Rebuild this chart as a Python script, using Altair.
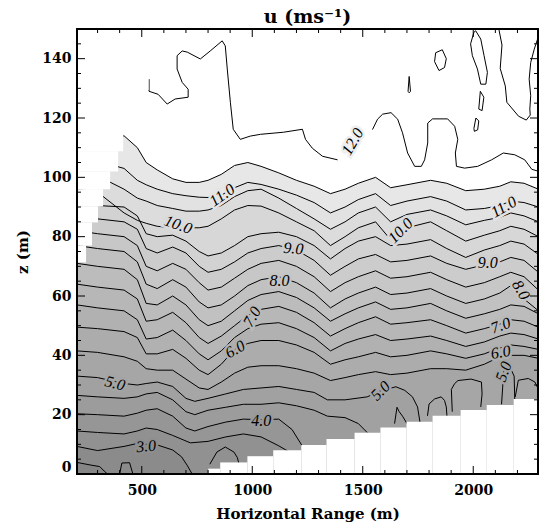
import altair as alt
import pandas as pd

# ---------------- axes / frame ----------------
X_DOMAIN = [207, 2293]
Z_DOMAIN = [0, 150]
X_MAJOR = [500, 1000, 1500, 2000]
X_MINOR = [300, 400, 600, 700, 800, 900, 1100, 1200, 1300, 1400, 1600, 1700,
           1800, 1900, 2100, 2200]
Z_MAJOR = [0, 20, 40, 60, 80, 100, 120, 140]
Z_MINOR = [5, 10, 15, 25, 30, 35, 45, 50, 55, 65, 70, 75, 85, 90, 95, 105, 110,
           115, 125, 130, 135, 145]

# ---------------- contour lines (x: m, z: m) ----------------
X_GRID = [207, 300, 420, 480, 520, 570, 640, 700, 760, 800, 860, 920, 980,
          1040, 1120, 1200, 1280, 1354, 1420, 1480, 1558, 1626, 1700, 1807,
          1880, 1966, 2050, 2120, 2170, 2230, 2295]

X_25 = [207, 270, 310, 330, 345]
Z_25 = [3.9, 3.0, 2.5, 1.0, 0.0]
X_25B = [400, 410, 445, 460]
Z_25B = [0.0, 3.7, 3.8, 0.0]

X_30 = [207, 300, 420, 480, 520, 570, 640, 680, 705, 728]
Z_30 = [9.3, 7.9, 9.3, 10.3, 10.0, 9.8, 8.1, 5.8, 3.0, 0.0]
X_35B = [808, 840, 878, 917, 932, 940]
Z_35B = [3.3, 7.4, 9.1, 7.4, 5.6, 3.5]

X_35 = [207, 300, 420, 480, 520, 570, 640, 720, 800, 880, 960, 1040, 1120, 1200]
Z_35 = [14.5, 14.0, 13.5, 14.5, 15.5, 15.0, 13.0, 10.5, 11.0, 12.5, 13.5, 12.5,
        9.5, 6.0]

X_40 = [207, 300, 420, 480, 520, 570, 640, 700, 740, 800, 880, 960, 1040, 1120,
        1180, 1230]
Z_40 = [20.3, 20.0, 19.5, 20.5, 21.5, 22.0, 19.5, 15.5, 14.5, 16.0, 17.5, 18.5,
        18.3, 18.5, 15.0, 9.0]

X_45 = [207, 300, 420, 480, 520, 570, 640, 700, 740, 800, 880, 960, 1040, 1120,
        1200, 1280, 1340, 1420, 1480, 1520]
Z_45 = [26.5, 26.0, 25.5, 26.0, 27.0, 27.5, 25.0, 21.0, 20.0, 21.5, 22.5, 23.5,
        23.5, 24.0, 23.0, 21.5, 19.5, 19.0, 17.0, 14.0]
X_45B = [1644, 1655, 1665, 1680, 1700]
Z_45B = [17.0, 22.5, 21.0, 19.5, 17.0]

X_50 = [207, 300, 420, 480, 520, 570, 640, 700, 740, 800, 880, 960, 1040, 1120,
        1200, 1280, 1340, 1420, 1520, 1580, 1650, 1690, 1725, 1748, 1760]
Z_50 = [33.0, 32.5, 30.5, 30.0, 30.5, 31.0, 29.5, 25.5, 24.5, 25.5, 27.0, 28.5,
        29.0, 29.5, 28.5, 27.5, 25.0, 25.0, 26.0, 28.0, 29.4, 28.2, 26.0, 22.6,
        17.0]
X_50B = [1793, 1800, 1825, 1855, 1870, 1878, 1881]
Z_50B = [19.6, 23.6, 25.3, 26.0, 24.8, 22.6, 19.6]
X_50C = [1905, 1901, 1916, 1931, 1990, 2037, 2040, 2034]
Z_50C = [21.0, 28.5, 30.5, 31.5, 32.0, 31.0, 27.0, 22.6]
X_50D = [2128, 2133, 2138, 2143, 2160, 2185, 2188]
Z_50D = [23.5, 29.0, 34.5, 37.5, 37.0, 33.0, 25.0]
X_50E = [2190, 2204, 2249, 2279, 2297]
Z_50E = [26.0, 31.6, 32.2, 31.0, 28.2]

Z_55 = [41.5, 41.0, 39.5, 38.0, 35.5, 35.0, 35.0, 32.0, 29.0, 28.5, 31.0, 34.0,
        36.0, 36.5, 36.5, 35.5, 34.0, 31.5, 32.5, 33.5, 34.5, 33.5, 34.0, 35.5,
        35.5, 35.0, 37.0, 39.5, 40.0, 40.0, 39.0]
Z_60 = [49.5, 49.0, 48.0, 46.0, 40.5, 40.5, 42.0, 39.0, 35.0, 33.5, 37.0, 42.0,
        44.0, 45.0, 45.0, 43.5, 41.0, 37.0, 38.5, 39.5, 41.0, 39.5, 40.0, 41.5,
        40.5, 39.0, 40.5, 42.5, 43.5, 43.0, 42.0]
Z_65 = [57.0, 56.0, 55.0, 52.0, 45.5, 46.0, 48.5, 45.0, 40.5, 38.5, 41.5, 46.0,
        49.0, 50.5, 51.0, 49.0, 46.0, 41.5, 44.0, 45.5, 47.0, 45.0, 45.5, 46.5,
        45.0, 43.0, 44.5, 46.5, 47.5, 47.0, 45.5]
Z_70 = [64.0, 63.0, 62.0, 59.0, 51.5, 52.0, 54.5, 51.0, 46.0, 44.0, 46.5, 50.0,
        53.5, 55.5, 56.5, 54.5, 51.0, 46.5, 49.0, 51.0, 53.0, 50.5, 51.0, 52.0,
        50.0, 47.5, 49.0, 50.5, 52.0, 51.5, 49.5]
Z_75 = [71.0, 70.0, 69.0, 65.5, 57.5, 57.0, 60.0, 57.0, 52.0, 50.0, 51.5, 55.0,
        58.5, 60.5, 61.5, 59.5, 56.0, 51.5, 54.0, 56.0, 58.0, 55.5, 56.0, 57.5,
        55.0, 52.5, 54.0, 55.5, 57.0, 56.5, 54.0]
Z_80 = [77.0, 76.0, 75.0, 71.5, 64.0, 62.5, 65.5, 63.0, 58.0, 56.0, 57.0, 60.0,
        63.5, 65.5, 66.5, 64.5, 61.0, 56.0, 59.0, 61.0, 63.0, 60.5, 61.0, 62.5,
        60.0, 57.5, 59.0, 61.0, 63.5, 59.0, 55.0]
Z_85 = [82.0, 81.0, 80.0, 77.0, 70.0, 68.5, 71.0, 69.0, 64.5, 62.0, 63.0, 66.0,
        69.0, 71.0, 72.0, 70.0, 66.5, 61.5, 64.5, 66.5, 68.5, 66.0, 66.5, 68.0,
        65.5, 63.0, 64.5, 66.5, 68.0, 66.5, 62.0]
Z_90 = [87.0, 86.0, 85.0, 82.5, 76.0, 74.5, 76.5, 74.5, 70.0, 68.0, 69.0, 71.5,
        74.5, 76.0, 77.0, 75.5, 72.0, 67.0, 70.0, 72.5, 74.0, 71.5, 72.0, 73.5,
        71.0, 69.0, 70.5, 71.5, 73.0, 72.0, 68.0]
Z_95 = [91.0, 90.5, 90.0, 87.0, 81.0, 80.0, 80.5, 78.5, 75.0, 73.5, 74.5, 77.0,
        80.0, 81.0, 81.5, 80.0, 77.0, 72.5, 76.0, 78.5, 80.0, 77.0, 77.5, 79.0,
        76.0, 73.0, 75.5, 77.0, 78.5, 77.5, 74.0]
Z_100 = [96.0, 95.0, 88.0, 85.5, 84.5, 83.5, 83.0, 83.0, 83.0, 83.5, 86.0, 89.0,
         90.5, 90.3, 88.0, 85.0, 82.0, 77.0, 80.0, 83.0, 85.0, 79.0, 83.0, 85.0,
         82.0, 78.5, 80.5, 82.0, 83.5, 82.5, 80.0]
Z_105 = [101.0, 100.5, 96.0, 93.0, 92.0, 90.5, 89.5, 88.6, 88.6, 89.0, 90.5,
         93.5, 95.5, 96.0, 93.0, 89.5, 86.0, 82.5, 85.0, 88.0, 90.0, 85.0, 87.5,
         89.0, 87.0, 84.0, 85.5, 86.5, 88.0, 87.0, 85.0]
Z_110 = [106.0, 105.5, 103.0, 99.0, 97.5, 96.0, 94.5, 93.8, 93.3, 93.2, 94.0,
         96.5, 98.3, 97.6, 96.0, 94.0, 91.5, 88.0, 90.0, 92.5, 94.5, 90.5, 92.0,
         93.5, 92.0, 89.0, 89.5, 90.5, 92.0, 91.5, 90.0]
Z_115 = [113.0, 112.5, 114.0, 110.0, 105.0, 102.5, 99.5, 98.3, 98.3, 99.0, 101.0,
         104.0, 105.0, 103.7, 101.5, 99.0, 97.0, 94.5, 96.0, 98.0, 100.0, 96.5,
         97.5, 99.0, 98.0, 95.5, 96.0, 97.0, 98.5, 98.0, 96.0]

X_120 = [533, 533, 574, 615, 651, 710, 710, 683, 660, 660, 683, 706, 765, 810,
         864, 878, 887, 901, 914, 946, 991, 1037, 1141, 1227, 1241, 1272, 1318,
         1386]
Z_120 = [133.1, 129.0, 128.0, 124.7, 126.4, 127.0, 129.7, 132.0, 136.5, 141.0,
         142.6, 142.2, 139.9, 142.6, 146.0, 144.3, 136.5, 125.3, 116.2, 112.8,
         113.9, 114.5, 115.2, 116.2, 112.8, 109.8, 107.1, 105.9]
X_120B = [1544, 1567, 1590, 1628, 1658, 1680, 1703, 1735, 1765, 1780, 1794,
          1794, 1816, 1884, 1916, 1930, 1919, 1924, 1961, 2020, 2083, 2136, 2188,
          2233, 2265, 2297]
Z_120B = [116.1, 119.6, 121.3, 121.8, 119.6, 115.0, 108.2, 103.7, 103.7, 105.9,
          111.6, 118.3, 119.7, 119.7, 117.2, 112.8, 108.2, 103.7, 103.1, 103.7,
          105.9, 108.2, 107.6, 105.9, 102.7, 102.0]

# closed cells of the highest level (upper right)
X_125A = [1830, 1860, 1878, 1870, 1845, 1825, 1830]
Z_125A = [142.0, 143.0, 140.0, 137.0, 136.0, 139.0, 142.0]
X_125B = [1705, 1710, 1716, 1710, 1705]
Z_125B = [129.0, 134.0, 129.0, 128.5, 129.0]
X_125C = [2003, 1988, 1996, 2019, 2034, 2057, 2064, 2049, 2034, 2011, 2003]
Z_125C = [148.9, 145.0, 141.0, 136.5, 131.4, 131.4, 135.4, 141.0, 146.6, 149.4,
          148.9]
X_125D = [2025, 2032, 2048, 2040, 2025]
Z_125D = [123.0, 129.0, 127.0, 122.5, 123.0]
X_125F = [2003, 2012, 2025, 2020, 2005, 2003]
Z_125F = [116.5, 120.0, 119.0, 116.0, 115.5, 116.5]
X_125E = [2115, 2130, 2122, 2145, 2152, 2205, 2240, 2258, 2256, 2260, 2253,
          2260, 2276, 2291, 2297]
Z_125E = [150.3, 144.6, 136.7, 130.8, 125.3, 120.6, 119.3, 121.0, 123.0, 127.5,
          133.1, 138.7, 143.2, 146.6, 148.0]

# ---------------- contour labels ----------------
LABEL_TEXT = ["3.0", "4.0", "5.0", "5.0", "5.0", "6.0", "6.0", "7.0", "7.0",
              "8.0", "8.0", "9.0", "9.0", "10.0", "10.0", "11.0", "11.0", "12.0"]
LABEL_X = [520, 1041, 379, 1580, 2138, 923, 2124, 1000, 2124, 1123, 2215, 1186,
           2066, 665, 1671, 864, 2138, 1454]
LABEL_Z = [9.3, 18.0, 30.5, 28.0, 34.5, 42.0, 41.0, 53.0, 50.0, 65.0, 62.0,
           76.0, 71.0, 84.0, 82.0, 94.0, 90.0, 112.0]
LABEL_ANGLE = [355, 0, 15, 315, 290, 330, 350, 300, 340, 0, 60, 5, 0, 20, 315,
               325, 330, 300]

# ---------------- scan mask (no data) ----------------
MASK_UL_X1 = [601, 565, 531, 497, 452, 416, 393, 357, 325, 302, 275, 248]
MASK_UL_Z0 = [145.0, 138.5, 129.4, 120.3, 114.5, 108.8, 102.0, 96.0, 90.2,
              84.8, 77.0, 71.3]
MASK_UL_Z1 = [151.0, 145.0, 138.5, 129.4, 120.3, 114.5, 108.8, 102.0, 96.0,
              90.2, 84.8, 77.0]
MASK_LR_X0 = [801, 855, 978, 1095, 1222, 1336, 1463, 1580, 1698, 1816, 1943,
              2061, 2183]
MASK_LR_Z1 = [1.8, 3.9, 6.0, 8.0, 9.8, 11.8, 13.9, 15.7, 17.6, 19.6, 21.6, 23.3,
              25.3]

# ---------------- assemble ----------------
MAIN = [(2.5, X_25, Z_25), (3.0, X_30, Z_30), (3.5, X_35, Z_35),
        (4.0, X_40, Z_40), (4.5, X_45, Z_45), (5.0, X_50, Z_50),
        (5.5, X_GRID, Z_55), (6.0, X_GRID, Z_60), (6.5, X_GRID, Z_65),
        (7.0, X_GRID, Z_70), (7.5, X_GRID, Z_75), (8.0, X_GRID, Z_80),
        (8.5, X_GRID, Z_85), (9.0, X_GRID, Z_90), (9.5, X_GRID, Z_95),
        (10.0, X_GRID, Z_100), (10.5, X_GRID, Z_105), (11.0, X_GRID, Z_110),
        (11.5, X_GRID, Z_115)]
EXTRA = [(2.5, X_25B, Z_25B), (3.5, X_35B, Z_35B), (4.5, X_45B, Z_45B),
         (5.0, X_50B, Z_50B), (5.0, X_50C, Z_50C), (5.0, X_50D, Z_50D),
         (5.0, X_50E, Z_50E),
         (12.0, X_120, Z_120), (12.0, X_120B, Z_120B),
         (12.5, X_125A, Z_125A), (12.5, X_125B, Z_125B),
         (12.5, X_125C, Z_125C), (12.5, X_125D, Z_125D),
         (12.5, X_125E, Z_125E), (12.5, X_125F, Z_125F)]

rows = []
for k, (lev, xs, zs) in enumerate(MAIN + EXTRA):
    for i, (x, z) in enumerate(zip(xs, zs)):
        rows.append({"seg": k, "level": lev, "x": x, "z": z, "i": i})
lines_df = pd.DataFrame(rows)


def gray(u):
    g = int(round(max(120, min(246, 134 + (u - 2.25) * 10.8))))
    return "#{0:02x}{0:02x}{0:02x}".format(g)


labels_df = pd.DataFrame({"text": LABEL_TEXT, "x": LABEL_X, "z": LABEL_Z,
                          "angle": LABEL_ANGLE})
labels_df["halo"] = [gray(float(t)) for t in LABEL_TEXT]

mask_ul = pd.DataFrame({"x0": [X_DOMAIN[0]] * len(MASK_UL_X1), "x1": MASK_UL_X1,
                        "z0": MASK_UL_Z0, "z1": MASK_UL_Z1})
mask_lr = pd.DataFrame({"x0": MASK_LR_X0,
                        "x1": MASK_LR_X0[1:] + [2300],
                        "z0": [0.0] * len(MASK_LR_X0), "z1": MASK_LR_Z1})

W, H = 461, 445
FONT = "DejaVu Serif"
xs_ = alt.Scale(domain=X_DOMAIN, nice=False, zero=False)
zs_ = alt.Scale(domain=Z_DOMAIN, nice=False, zero=False)
x_axis = alt.Axis(values=X_MAJOR, format="d", ticks=False, domain=False,
                  grid=False, labelFont=FONT, labelFontWeight="bold",
                  labelFontSize=14, labelColor="black", labelPadding=9,
                  title="Horizontal Range (m)", titleFont=FONT,
                  titleFontWeight="bold", titleFontSize=15, titleColor="black",
                  titlePadding=9)
z_axis = alt.Axis(values=Z_MAJOR, format="d", ticks=False, domain=False,
                  grid=False, labelFont=FONT, labelFontWeight="bold",
                  labelFontSize=14, labelColor="black", labelPadding=6,
                  labelFlush=True, title="z (m)", titleFont=FONT,
                  titleFontWeight="bold", titleFontSize=15, titleColor="black",
                  titlePadding=11)


def X(f="x"):
    return alt.X(f + ":Q", scale=xs_, axis=x_axis)


def Y(f="z"):
    return alt.Y(f + ":Q", scale=zs_, axis=z_axis, stack=None)


layers = []
# filled bands: paint the area under each level, highest first
for k in reversed(range(len(MAIN))):
    lev = MAIN[k][0]
    layers.append(
        alt.Chart(lines_df).transform_filter(alt.datum.seg == k)
        .mark_area(color=gray(lev - 0.25), clip=True)
        .encode(x=X(), y=Y())
    )
# contour lines
layers.append(
    alt.Chart(lines_df).mark_line(color="black", strokeWidth=1, clip=True)
    .encode(x=X(), y=Y(), detail="seg:N", order="i:Q")
)
# masks
for mdf in (mask_ul, mask_lr):
    layers.append(
        alt.Chart(mdf).mark_rect(color="white", clip=True)
        .encode(x=X("x0"), x2="x1:Q", y=Y("z0"), y2="z1:Q")
    )
# labels (halo then text)
layers.append(
    alt.Chart(labels_df).mark_text(font="Liberation Serif", fontStyle="italic",
                                   fontSize=16, strokeWidth=5)
    .encode(x=X(), y=Y(), text="text:N", angle=alt.Angle("angle:Q", scale=None),
            fill=alt.Fill("halo:N", scale=None),
            stroke=alt.Stroke("halo:N", scale=None))
)
layers.append(
    alt.Chart(labels_df).mark_text(font="Liberation Serif", fontStyle="italic",
                                   fontSize=16, color="black")
    .encode(x=X(), y=Y(), text="text:N", angle=alt.Angle("angle:Q", scale=None))
)
# inward ticks on all four sides
xmaj = pd.DataFrame({"t": X_MAJOR})
xmin = pd.DataFrame({"t": X_MINOR})
zmaj = pd.DataFrame({"t": Z_MAJOR})
zmin = pd.DataFrame({"t": Z_MINOR})
for df, ln in ((xmaj, 8), (xmin, 4)):
    layers.append(alt.Chart(df).mark_rule(color="black", strokeWidth=1)
                  .encode(x=X("t"), y=alt.value(H), y2=alt.value(H - ln)))
    layers.append(alt.Chart(df).mark_rule(color="black", strokeWidth=1)
                  .encode(x=X("t"), y=alt.value(0), y2=alt.value(ln)))
for df, ln in ((zmaj, 8), (zmin, 4)):
    layers.append(alt.Chart(df).mark_rule(color="black", strokeWidth=1)
                  .encode(y=Y("t"), x=alt.value(0), x2=alt.value(ln)))
    layers.append(alt.Chart(df).mark_rule(color="black", strokeWidth=1)
                  .encode(y=Y("t"), x=alt.value(W), x2=alt.value(W - ln)))
# frame
layers.append(
    alt.Chart(xmaj).mark_rect(filled=False, stroke="black", strokeWidth=1.5)
    .encode(x=alt.value(0), x2=alt.value(W), y=alt.value(0), y2=alt.value(H))
)

chart = alt.layer(*layers).properties(
    width=W, height=H,
    title=alt.TitleParams(text="u (ms⁻¹)", font=FONT, fontSize=19,
                          fontWeight="bold", color="black", anchor="middle",
                          offset=1),
    autosize=alt.AutoSizeParams(type="none"),
    padding={"left": 77, "top": 29, "right": 1, "bottom": 51},
).configure_view(stroke=None, fill=gray(12.2)).configure(background="white")

chart.save("out.html", embed_options={"renderer": "svg", "actions": False})
